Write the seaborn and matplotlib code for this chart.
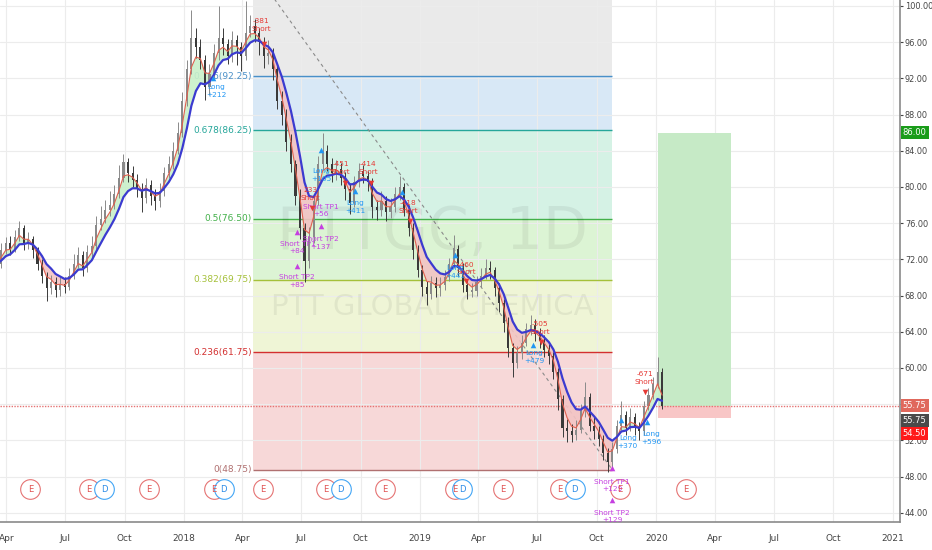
import matplotlib
matplotlib.use('Agg')
import matplotlib.pyplot as plt
import matplotlib.dates as mdates
import seaborn as sns
import pandas as pd
import numpy as np

# weekly bars (PTTGC)
close = [71.5, 73.0, 73.8, 73.2, 74.5, 75.5, 73.8, 74.2, 73.0, 71.5,
         70.2, 68.8, 69.5, 68.6, 69.3, 69.0, 70.2, 71.5, 72.5, 71.0,
         72.8, 73.5, 75.8, 76.5, 77.5, 78.0, 79.2, 81.0, 82.8, 81.5,
         80.8, 79.8, 78.8, 80.2, 79.0, 78.5, 79.5, 81.5, 82.5, 84.0,
         86.0, 89.5, 93.0, 96.5, 95.5, 94.0, 91.0, 92.5, 94.8, 96.5,
         95.8, 94.5, 96.2, 95.5, 94.5, 97.0, 97.8, 97.0, 96.0, 94.5,
         94.8, 93.0, 89.5, 88.0, 85.0, 82.5, 79.0, 75.5, 71.8, 74.5,
         78.5, 82.5, 84.0, 82.5, 81.5, 82.0, 81.0, 79.8, 78.2, 80.5,
         81.8, 81.2, 80.5, 77.8, 77.5, 78.5, 77.2, 77.8, 79.2, 80.0,
         77.5, 75.5, 73.0, 70.8, 69.0, 68.2, 69.4, 68.8, 69.2, 70.0,
         71.5, 73.2, 71.0, 69.2, 68.4, 68.5, 69.5, 70.2, 71.0, 70.8,
         68.8, 67.2, 65.0, 62.2, 60.5, 61.6, 62.8, 64.3, 64.8, 63.8,
         63.0, 62.0, 61.3, 59.6, 56.6, 53.4, 53.0, 52.6, 53.2, 55.2,
         56.8, 53.6, 53.0, 52.2, 50.6, 49.6, 51.0, 53.6, 54.8, 53.4,
         54.6, 53.6, 53.0, 55.8, 57.0, 58.2, 59.5, 55.75]
high = [72.5, 73.8, 74.5, 74.6, 75.2, 76.2, 75.8, 75.0, 74.6, 73.4,
        72.0, 70.6, 70.3, 70.0, 70.1, 70.0, 71.0, 72.6, 73.4, 72.9,
        73.6, 74.6, 76.8, 77.9, 78.6, 79.5, 80.2, 82.4, 83.6, 83.2,
        82.3, 81.4, 80.4, 81.0, 80.8, 79.8, 80.4, 82.2, 83.4, 85.0,
        87.2, 90.5, 94.0, 99.5, 97.6, 96.4, 94.6, 93.6, 95.8, 100.0,
        97.6, 96.4, 97.2, 96.8, 96.0, 100.5, 99.0, 98.6, 97.6, 96.6,
        96.2, 95.4, 93.6, 90.6, 88.6, 85.8, 83.0, 79.8, 76.0, 75.6,
        79.2, 83.4, 86.0, 84.6, 83.2, 83.0, 82.6, 81.6, 80.4, 81.2,
        82.6, 82.4, 81.8, 81.0, 78.6, 79.6, 79.0, 78.8, 80.0, 81.2,
        80.4, 78.0, 76.0, 73.6, 71.4, 69.6, 70.2, 70.0, 70.0, 70.8,
        72.2, 74.7, 73.6, 71.6, 69.8, 69.4, 70.2, 71.0, 72.0, 71.8,
        71.2, 69.4, 67.6, 65.6, 62.8, 62.4, 63.6, 65.0, 65.8, 65.4,
        64.4, 63.6, 62.6, 61.8, 60.0, 57.0, 54.4, 53.8, 54.2, 56.0,
        58.5, 57.2, 54.6, 53.6, 52.6, 51.2, 51.8, 54.2, 56.3, 55.2,
        55.6, 55.0, 54.0, 56.4, 57.8, 59.0, 61.2, 60.0]
low = [70.5, 71.0, 72.6, 72.5, 72.8, 74.0, 73.0, 73.2, 72.2, 70.8,
       69.4, 67.4, 68.2, 67.8, 68.0, 68.3, 68.6, 69.8, 71.0, 70.2,
       70.6, 72.2, 73.2, 75.2, 76.0, 76.8, 77.6, 78.8, 80.5, 80.6,
       80.0, 78.9, 77.2, 78.2, 78.0, 77.5, 77.8, 79.0, 81.0, 82.0,
       83.6, 85.5, 89.0, 92.5, 94.2, 93.0, 89.6, 90.2, 92.0, 94.0,
       94.6, 93.6, 93.8, 93.5, 92.8, 94.0, 96.6, 96.0, 94.6, 93.2,
       93.6, 91.8, 88.6, 86.8, 84.0, 81.6, 78.0, 74.2, 69.5, 71.0,
       73.8, 78.0, 82.0, 81.8, 80.6, 80.8, 80.2, 78.6, 77.0, 77.8,
       80.0, 80.4, 79.6, 76.6, 76.4, 76.8, 76.2, 76.6, 77.2, 78.6,
       76.8, 74.6, 72.0, 70.0, 68.0, 67.0, 67.6, 67.8, 68.0, 68.6,
       69.6, 71.0, 70.2, 68.4, 67.6, 67.8, 68.0, 69.0, 69.8, 69.8,
       68.0, 66.2, 64.0, 61.2, 59.0, 60.0, 61.0, 62.4, 63.6, 63.0,
       62.2, 61.2, 60.4, 58.8, 55.4, 52.4, 51.8, 51.8, 52.0, 52.8,
       54.6, 53.0, 52.2, 51.4, 49.8, 48.5, 49.0, 50.6, 53.2, 52.6,
       53.0, 52.6, 52.0, 52.6, 55.4, 56.6, 57.8, 55.5]
first_open = 71.0
last_bar = '2020-01-10'

# fibonacci retracement
fib_levels = [1.0, 0.786, 0.678, 0.5, 0.382, 0.236, 0.0]
fib_prices = [104.10, 92.25, 86.25, 76.50, 69.75, 61.75, 48.75]
fib_start, fib_end = '2018-04-17', '2019-10-25'

# long position tool
target, entry, stop = 86.00, 55.75, 54.50
pos_start, pos_end = '2020-01-04', '2020-04-26'

# earnings / dividend markers
earn_dates = ['2017-05-08', '2017-08-06', '2017-11-07', '2018-02-16', '2018-05-03',
              '2018-08-08', '2018-11-07', '2019-02-24', '2019-05-09', '2019-08-05',
              '2019-11-06', '2020-02-16']
div_dates = ['2017-08-30', '2018-03-03', '2018-08-31', '2019-03-07', '2019-08-28']

# strategy labels (date, price, text, kind)
signal_text = [
    ('2018-04-30', 97.9, '-381\nShort', 'short'),
    ('2018-02-19', 90.6, 'Long\n+212', 'long'),
    ('2018-06-25', 73.3, 'Short TP1\n+84', 'tp'),
    ('2018-06-24', 69.6, 'Short TP2\n+85', 'tp'),
    ('2018-07-15', 79.2, '233\nShort', 'short'),
    ('2018-07-31', 77.4, 'Short TP1\n+56', 'tp'),
    ('2018-07-31', 73.8, 'Short TP2\n+137', 'tp'),
    ('2018-08-01', 81.3, 'Long\n+105', 'long'),
    ('2018-08-31', 82.1, '-451\nShort', 'short'),
    ('2018-10-12', 82.1, '-414\nShort', 'short'),
    ('2018-09-22', 77.8, 'Long\n+411', 'long'),
    ('2018-12-13', 77.8, '-418\nShort', 'short'),
    ('2019-03-13', 71.0, '-460\nShort', 'short'),
    ('2019-02-24', 70.6, 'Long\n+441', 'long'),
    ('2019-07-05', 64.4, '-505\nShort', 'short'),
    ('2019-06-26', 61.2, 'Long\n+479', 'long'),
    ('2019-10-25', 47.0, 'Short TP1\n+129', 'tp'),
    ('2019-10-25', 43.6, 'Short TP2\n+129', 'tp'),
    ('2019-11-18', 51.8, 'Long\n+370', 'long'),
    ('2019-12-14', 58.9, '-671\nShort', 'short'),
    ('2019-12-24', 52.3, 'Long\n+596', 'long'),
]
signal_arrows = [
    ('2018-05-05', 95.8, 'short'), ('2018-02-14', 92.0, 'long'),
    ('2018-06-25', 75.0, 'tp'), ('2018-06-24', 71.3, 'tp'),
    ('2018-07-17', 77.7, 'short'), ('2018-08-01', 75.7, 'tp'),
    ('2018-08-01', 84.1, 'long'), ('2018-09-06', 80.4, 'short'),
    ('2018-10-17', 80.4, 'short'), ('2018-09-22', 79.6, 'long'),
    ('2018-12-16', 76.2, 'short'), ('2018-12-04', 79.4, 'long'),
    ('2019-03-13', 69.6, 'short'), ('2019-02-24', 72.5, 'long'),
    ('2019-07-07', 62.9, 'short'), ('2019-06-24', 62.5, 'long'),
    ('2019-10-25', 48.9, 'tp'), ('2019-10-25', 45.4, 'tp'),
    ('2019-11-08', 54.3, 'long'), ('2019-12-14', 57.3, 'short'),
    ('2019-12-17', 54.0, 'long'),
]

sig_colors = {'long': '#2196f3', 'short': '#e53935', 'tp': '#c53fe0'}

# ---- frame ----
df = pd.DataFrame({
    'date': pd.date_range(end=last_bar, periods=len(close), freq='W-FRI'),
    'open': [first_open] + close[:-1],
    'high': high, 'low': low, 'close': close,
})
df['fast'] = df['close'].ewm(span=3, adjust=False).mean()
df['slow'] = df['close'].ewm(span=7, adjust=False).mean()

sns.set_theme(style='white')
plt.rcParams['font.family'] = ['DejaVu Sans']

fig = plt.figure(figsize=(9.32, 5.5), dpi=100)
ax = fig.add_axes([0, 28 / 550, 900 / 932, 522 / 550])

fs, fe = pd.Timestamp(fib_start), pd.Timestamp(fib_end)
zone_colors = ['#eaeaea', '#d8e8f6', '#d5f2e5', '#dcf4d4', '#eff5d6', '#f7d8d8']
line_colors = ['#9e9e9e', '#4a90c8', '#26a69a', '#43b04a', '#a5c03a', '#d32f2f', '#b07070']
for k in range(len(fib_prices) - 1):
    ax.fill_between([fs, fe], fib_prices[k + 1], fib_prices[k], color=zone_colors[k], lw=0, zorder=0)
for lv, pr, col in zip(fib_levels, fib_prices, line_colors):
    if lv == 1.0:
        continue
    ax.hlines(pr, fs, fe, color=col, lw=1, zorder=1)
    ax.text(fs - pd.Timedelta(days=2), pr, f'{lv:g}({pr:.2f})', color=col, fontsize=6.5,
            ha='right', va='center', zorder=1)
ax.plot([fs, fe], [fib_prices[0], fib_prices[-1]], color='#8a8a8a', lw=0.8,
        ls=(0, (3, 3)), zorder=1)

# watermark
mid = fs + (fe - fs) / 2
ax.text(mid, 75.0, 'PTTGC, 1D', fontsize=42, color='#000000', alpha=0.06,
        ha='center', va='center', zorder=1)
ax.text(mid, 66.7, 'PTT GLOBAL CHEMICA', fontsize=21, color='#000000', alpha=0.06,
        ha='center', va='center', zorder=1)

# long position box
ps, pe = pd.Timestamp(pos_start), pd.Timestamp(pos_end)
ax.fill_between([ps, pe], entry, target, color='#c6eac6', lw=0, zorder=1)
ax.fill_between([ps, pe], stop, entry, color='#f8c6c6', lw=0, zorder=1)
ax.axhline(entry, color='#e57373', lw=1, ls=(0, (1, 1)), zorder=2)

# moving averages + ribbon
ax.fill_between(df['date'], df['fast'], df['slow'], where=df['fast'] >= df['slow'],
                color='#c9f0c9', alpha=0.9, lw=0, interpolate=True, zorder=2)
ax.fill_between(df['date'], df['fast'], df['slow'], where=df['fast'] < df['slow'],
                color='#f3c4c4', alpha=0.9, lw=0, interpolate=True, zorder=2)

# candles
up = df['close'] >= df['open']
cols = np.where(up, '#8a8a8a', '#3a3a3a')
ax.vlines(df['date'], df['low'], df['high'], color=cols, lw=0.7, zorder=3)
body = (df['close'] - df['open']).abs().clip(lower=0.2)
ax.bar(df['date'], body, bottom=df[['open', 'close']].min(axis=1), width=3.2,
       color=cols, lw=0, zorder=3)

sns.lineplot(data=df, x='date', y='fast', color='#e0604f', lw=0.8, ax=ax, zorder=4)
sns.lineplot(data=df, x='date', y='slow', color='#3b3bd0', lw=1.6, ax=ax, zorder=4)

# signals
for d, p, txt, kind in signal_text:
    ax.text(pd.Timestamp(d), p, txt, color=sig_colors[kind], fontsize=5.3, ha='center',
            va='center', linespacing=1.35, zorder=6)
for d, p, kind in signal_arrows:
    ax.scatter(pd.Timestamp(d), p, marker='v' if kind == 'short' else '^', s=16,
               color=sig_colors[kind], lw=0, zorder=6)

# earnings / dividends
ev_y = 46.6
for d in earn_dates:
    ax.scatter(pd.Timestamp(d), ev_y, s=200, facecolor='white', edgecolor='#e57373', lw=0.8, zorder=5)
    ax.text(pd.Timestamp(d), ev_y, 'E', color='#e05050', fontsize=6, ha='center', va='center', zorder=6)
for d in div_dates:
    ax.scatter(pd.Timestamp(d), ev_y, s=200, facecolor='white', edgecolor='#42a5f5', lw=0.8, zorder=5)
    ax.text(pd.Timestamp(d), ev_y, 'D', color='#2b8be6', fontsize=6, ha='center', va='center', zorder=6)

# axes
ax.set_xlim(pd.Timestamp('2017-03-22'), pd.Timestamp('2021-01-12'))
ax.set_ylim(42.98, 100.66)
ax.set_xlabel('')
ax.set_ylabel('')
ax.yaxis.tick_right()
ax.set_yticks(np.arange(44, 101, 4))
ax.yaxis.set_major_formatter(matplotlib.ticker.FuncFormatter(lambda v, _: f'{v:.2f}'))
qticks = pd.date_range('2017-04-01', '2021-01-01', freq='QS')
ax.set_xticks(qticks)
ax.set_xticklabels([str(t.year) if t.month == 1 else t.strftime('%b') for t in qticks])
ax.tick_params(axis='both', labelsize=6.5, colors='#444444', length=2.5, width=0.8)
ax.tick_params(axis='y', pad=1.0, labelsize=5.9)
ax.tick_params(axis='x', pad=6)
ax.grid(True, color='#ececec', lw=0.8)
ax.set_axisbelow(True)
for s in ['top', 'left']:
    ax.spines[s].set_visible(False)
for s in ['right', 'bottom']:
    ax.spines[s].set_color('#8a8a8a')
    ax.spines[s].set_linewidth(1.2)

# price tags on the scale
tags = [(target, '86.00', '#1a9c1a'), (entry + 0.1, '55.75', '#e0685c'),
        (54.2, '55.75', '#4a4a4a'), (52.75, '54.50', '#ff1a1a')]
for p, txt, col in tags:
    ax.text(1.003, p, txt, transform=ax.get_yaxis_transform(), color='white', fontsize=6.0,
            ha='left', va='center', zorder=10,
            bbox=dict(boxstyle='square,pad=0.25', fc=col, ec='none'))

fig.savefig('out.png', dpi=100)
